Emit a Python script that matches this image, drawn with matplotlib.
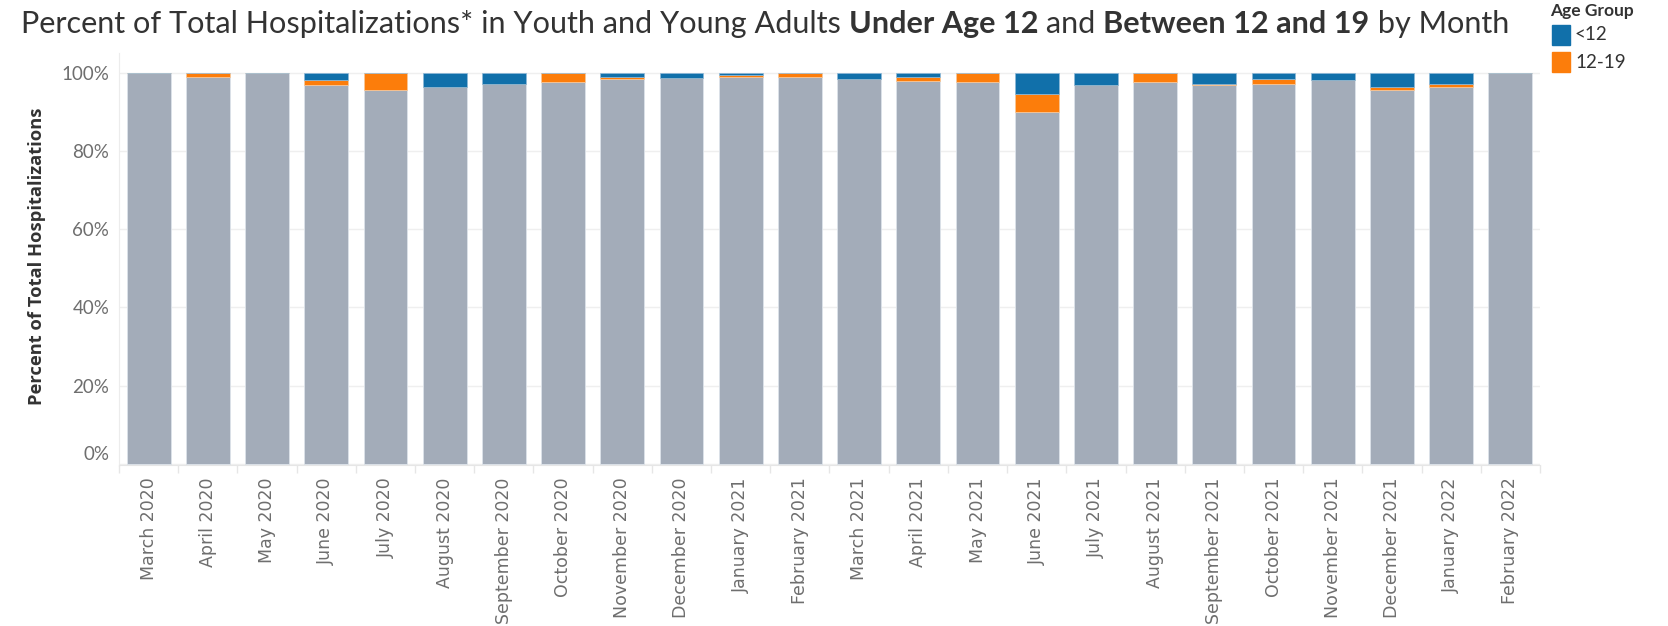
import matplotlib
matplotlib.use("Agg")
import matplotlib.pyplot as plt
import numpy as np
from matplotlib.patches import Rectangle
from matplotlib.transforms import ScaledTranslation

months = ["March 2020", "April 2020", "May 2020", "June 2020", "July 2020", "August 2020",
          "September 2020", "October 2020", "November 2020", "December 2020", "January 2021",
          "February 2021", "March 2021", "April 2021", "May 2021", "June 2021", "July 2021",
          "August 2021", "September 2021", "October 2021", "November 2021", "December 2021",
          "January 2022", "February 2022"]
under12 = [0.0, 0.0, 0.0, 2.0, 0.0, 3.7, 2.9, 0.0, 1.2, 1.3, 0.75, 0.0,
           1.7, 1.26, 0.0, 5.4, 3.3, 0.0, 2.9, 1.7, 2.0, 3.7, 2.9, 0.0]
age12_19 = [0.0, 1.26, 0.0, 1.26, 4.45, 0.0, 0.0, 2.5, 0.5, 0.0, 0.5, 1.26,
            0.0, 0.84, 2.5, 4.8, 0.0, 2.5, 0.35, 1.26, 0.0, 0.75, 0.75, 0.0]
y_ticks = [0, 20, 40, 60, 80, 100]
y_ticklabels = ["0%", "20%", "40%", "60%", "80%", "100%"]
legend_labels = ["<12", "12-19"]

GREY = "#a3acb9"
BLUE = "#1170aa"
ORANGE = "#fc7d0b"
TXT = "#333333"
TICK = "#6e6e6e"
FONT = "Lato"

fig = plt.figure(figsize=(16.68, 6.26), dpi=100)
W, H = 1668, 626
ax = fig.add_axes([119 / W, 1 - 465 / H, (1540 - 119) / W, (465 - 53) / H])

x = np.arange(len(months))
u = np.array(under12)
o = np.array(age12_19)
other = 100 - u - o
bw = 0.74
ax.bar(x, other, width=bw, color=GREY, edgecolor="#dde3ea", linewidth=0.6, zorder=2)
ax.bar(x, o, width=bw, bottom=other, color=ORANGE, edgecolor="#f7c99c", linewidth=0.5, zorder=2)
ax.bar(x, u, width=bw, bottom=other + o, color=BLUE, edgecolor="#8fb9d8", linewidth=0.5, zorder=2)

ax.set_xlim(-0.5, len(months) - 0.5)
ax.set_ylim(-0.3, 105)
ax.set_yticks(y_ticks)
ax.set_yticklabels(y_ticklabels, fontsize=13.5, color=TICK, family=FONT)
ax.yaxis.grid(True, color="#efefef", linewidth=1, zorder=0)
ax.tick_params(axis="y", length=0, pad=7)
lab0 = ax.get_yticklabels()[0]
lab0.set_transform(lab0.get_transform() + ScaledTranslation(0, 0.11, fig.dpi_scale_trans))

ax.set_xticks(x)
ax.set_xticklabels(months, rotation=90, fontsize=12.5, color=TICK, family="DejaVu Sans")
ax.set_xticks(np.arange(-0.5, len(months), 1), minor=True)
ax.tick_params(axis="x", which="major", length=0, pad=9)
ax.tick_params(axis="x", which="minor", length=6, color="#e6e6e6", width=1)

for s in ["top", "right"]:
    ax.spines[s].set_visible(False)
ax.spines["left"].set_color("#ececec")
ax.spines["bottom"].set_color("#e6e6e6")

fig.text(37 / W, 1 - 256 / H, "Percent of Total Hospitalizations", rotation=90,
         fontsize=13.2, fontweight="bold", color=TXT, family="Open Sans",
         ha="center", va="center")

# Title with bold segments
tsize = 22.1
parts = [("Percent of Total Hospitalizations* in Youth and Young Adults ", "normal"),
         ("Under Age 12", "bold"), (" and ", "normal"), ("Between 12 and 19", "bold"),
         (" by Month", "normal")]
t = fig.text(21 / W, 1 - 33 / H, parts[0][0], fontsize=tsize, color=TXT, family=FONT,
             fontweight=parts[0][1], va="baseline", ha="left")
for txt, wt in parts[1:]:
    t = ax.annotate(txt, xy=(1, 0), xycoords=t, fontsize=tsize, color=TXT,
                    family=FONT, fontweight=wt, va="bottom", ha="left",
                    annotation_clip=False)

# Legend
fig.text(1550 / W, 1 - 11 / H, "Age Group", fontsize=12.5, fontweight="bold", color=TXT,
         family=FONT, va="center", ha="left")
for i, (lab, col) in enumerate(zip(legend_labels, [BLUE, ORANGE])):
    yc = 34.5 + i * 27.5
    fig.patches.append(Rectangle((1552 / W, 1 - (yc + 10) / H), 18 / W, 20 / H,
                                 transform=fig.transFigure, color=col, figure=fig))
    fig.text(1575 / W, 1 - yc / H, lab, fontsize=13.5, color=TXT, family=FONT,
             va="center", ha="left")

fig.savefig("out.png", dpi=100)
